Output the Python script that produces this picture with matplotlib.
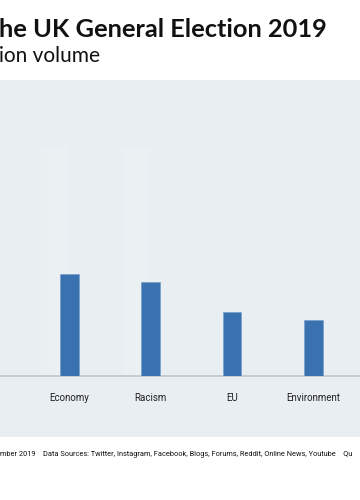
import matplotlib.pyplot as plt
from matplotlib.patches import Rectangle
import numpy as np

topics = ["Economy", "Racism", "EU", "Environment"]
volume = [102, 94, 64, 56]
# faint earlier series only visible behind the first two topics
volume_prev = [228, 228, 0, 0]

title = "he UK General Election 2019"
subtitle = "ion volume"
footer = ("mber 2019    Data Sources: Twitter, Instagram, Facebook, Blogs, Forums, "
          "Reddit, Online News, Youtube    Qu")

fig = plt.figure(figsize=(3.6, 5), dpi=100)
fig.patch.set_facecolor("white")

# grey panel behind the chart
fig.patches.append(Rectangle((0, 63 / 500), 1, 357 / 500, transform=fig.transFigure,
                             facecolor="#e9eef2", edgecolor="none", zorder=-10))

ax = fig.add_axes([0, 124 / 500, 1, 296 / 500])
ax.patch.set_alpha(0)

x = np.arange(len(topics))
ax.bar(x - 0.18, volume_prev, width=0.33, color="#ebf0f3", zorder=1)
ax.bar(x, volume, width=0.23, color="#3a72b0", edgecolor="#6f9acb", linewidth=0.4, zorder=3)

ax.set_xlim(-0.85, 3.57)
ax.set_ylim(0, 296)
for s in ["top", "right", "left"]:
    ax.spines[s].set_visible(False)
ax.spines["bottom"].set_color("#c2c6ca")
ax.spines["bottom"].set_linewidth(1.2)
ax.spines["bottom"].set_zorder(2)
ax.set_yticks([])
ax.set_xticks(x)
ax.set_xticklabels(topics, fontsize=7, color="#222222", family="Roboto")
ax.tick_params(axis="x", length=0, pad=12)

fig.text(-0.002, 1 - 37 / 500, title, fontsize=18.3, fontweight="bold", family="Lato",
         color="#111111", ha="left", va="baseline")
fig.text(-0.002, 1 - 62 / 500, subtitle, fontsize=15, family="Lato",
         color="#111111", ha="left", va="baseline")
fig.text(0, 1 - 456 / 500, footer, fontsize=5.35, family="Roboto",
         color="#111111", ha="left", va="baseline")

plt.savefig("out.png", dpi=100, facecolor="white")
